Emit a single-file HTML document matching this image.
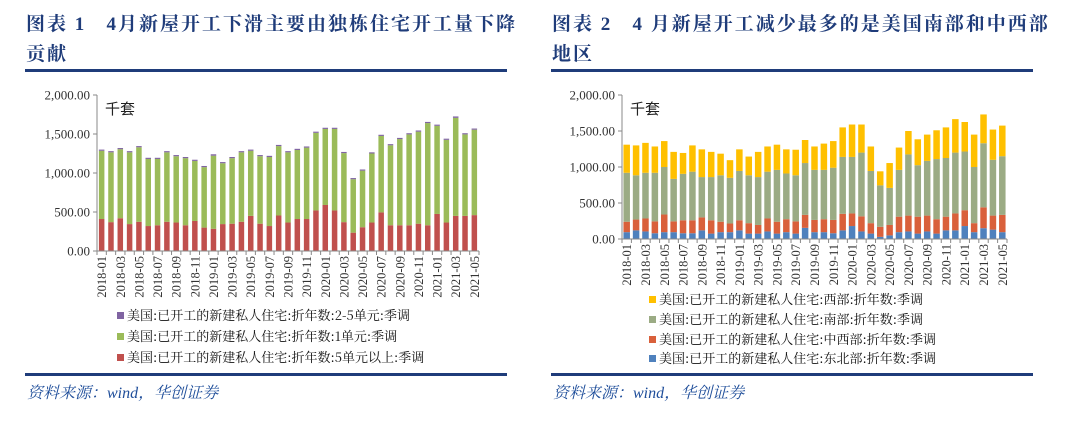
<!DOCTYPE html>
<html><head><meta charset="utf-8"><style>
body{margin:0;background:#fff;width:1080px;height:423px;overflow:hidden;position:relative;font-family:"Liberation Serif","Noto Serif CJK SC",serif}
.t{position:absolute;color:#1f3c7a;font-weight:bold;font-size:19px;line-height:30px;font-family:"Liberation Serif","Noto Serif CJK SC",serif;letter-spacing:2px}
.rule{position:absolute;height:3px;background:#1f3c7a}
.src{position:absolute;color:#1f4e9a;font-style:italic;font-size:16px;font-family:"Liberation Serif","Noto Serif CJK SC",serif}
svg{position:absolute;left:0;top:0}
</style></head><body>
<div class="t" style="left:26px;top:10px;width:500px">图表 1&nbsp;&nbsp;&nbsp;4月新屋开工下滑主要由独栋住宅开工量下降<br>贡献</div>
<div class="t" style="left:552px;top:10px;width:510px">图表 2&nbsp;&nbsp;&nbsp;4 月新屋开工减少最多的是美国南部和中西部<br>地区</div>
<div class="rule" style="left:25px;top:69px;width:482px"></div>
<div class="rule" style="left:551px;top:69px;width:482px"></div>
<div class="rule" style="left:25px;top:373px;width:482px"></div>
<div class="rule" style="left:551px;top:373px;width:482px"></div>
<div class="src" style="left:27px;top:380px">资料来源：wind，华创证券</div>
<div class="src" style="left:553px;top:380px">资料来源：wind，华创证券</div>
<svg id="s" width="1080" height="423"></svg>
<script>
const months=[];for(let y=2018;y<=2021;y++)for(let m=1;m<=12;m++){if(y==2021&&m>5)break;months.push(y+'-'+String(m).padStart(2,'0'));}
const yTicks=[0,500,1000,1500,2000];
const yTickLabels=['0.00','500.00','1,000.00','1,500.00','2,000.00'];
const c1Total=[1300,1280,1320,1280,1345,1195,1195,1280,1230,1205,1170,1090,1240,1140,1205,1280,1300,1230,1220,1360,1280,1310,1340,1530,1580,1580,1270,935,1045,1265,1490,1370,1450,1510,1545,1655,1620,1440,1725,1510,1570];
const c1Multi=[410,370,420,345,375,320,330,375,365,330,385,300,285,345,350,375,450,350,320,455,365,410,410,520,590,520,370,235,305,365,495,330,330,330,350,330,475,365,450,450,460];
const c1Small=[15,15,15,15,15,15,15,15,15,15,15,15,18,15,15,15,15,15,15,15,15,15,15,15,15,15,15,15,15,15,15,15,15,15,15,15,15,15,18,15,15];
const c2NE=[95,120,105,80,95,95,80,80,120,75,95,95,120,75,75,105,75,95,75,155,95,95,80,120,180,105,75,30,50,95,105,75,105,75,120,120,180,95,150,130,95];
const c2MWtop=[240,270,285,245,340,245,260,260,300,260,240,215,260,220,195,285,240,275,245,335,265,275,265,350,355,315,220,170,195,310,325,310,325,275,310,355,400,220,440,325,335];
const c2Stop=[920,885,920,920,1000,835,905,935,860,860,885,850,945,885,860,935,960,910,885,1055,960,960,990,1140,1140,1200,945,745,710,960,1175,1025,1085,1110,1125,1200,1215,1000,1330,1100,1150];
const c2Total=[1310,1300,1335,1285,1360,1210,1195,1300,1245,1210,1185,1095,1245,1145,1210,1285,1310,1245,1240,1375,1285,1325,1360,1550,1590,1590,1285,940,1055,1270,1500,1385,1450,1510,1550,1665,1625,1450,1730,1520,1575];
const S=document.getElementById('s'),NS='http://www.w3.org/2000/svg';
function mk(t,a,p){const e=document.createElementNS(NS,t);for(const k in a)e.setAttribute(k,a[k]);(p||S).appendChild(e);return e;}
function chart(id,x0,x1,y0,y1,bw,series,legend,ly){
 const n=months.length,slot=(x1-x0)/n;
 const X=i=>x0+slot*(i+0.5),Y=v=>y0-(v/2000)*(y0-y1);
 const g=mk('g',{});
 yTicks.forEach((t,k)=>{const tx=mk('text',{x:x0-7,y:Y(t)+4.5,'text-anchor':'end','font-size':13,fill:'#333','font-family':'Liberation Serif, serif'},g);tx.textContent=yTickLabels[k];
  const tk=mk('line',{x1:x0-4,x2:x0,y1:Y(t),y2:Y(t),stroke:'#888'},g);});
 const u=mk('text',{x:x0+8,y:y1+19,'font-size':15,fill:'#222','font-family':'Noto Sans CJK SC, sans-serif'},g);u.textContent='千套';
 for(let i=0;i<n;i++){let base=0;series.forEach(s=>{const v=s.vals[i];const r=mk('rect',{x:X(i)-bw/2,y:Y(base+v),width:bw,height:Y(base)-Y(base+v),fill:s.color},g);base+=v;});}
 const ax=mk('line',{x1:x0,x2:x0,y1:y1,y2:y0,stroke:'#888'},g);
 const bx=mk('line',{x1:x0,x2:x1,y1:y0,y2:y0,stroke:'#888'},g);
 for(let i=0;i<=n;i++){const tk=mk('line',{x1:x0+slot*i,x2:x0+slot*i,y1:y0,y2:y0+4,stroke:'#888'},g);}
 months.forEach((m,i)=>{if(i%2)return;const tx=mk('text',{x:0,y:0,'text-anchor':'end','font-size':12.5,fill:'#333','font-family':'Liberation Serif, serif',transform:`translate(${X(i)+4.5},${y0+5}) rotate(-90)`},g);tx.textContent=m;});
 legend.forEach((l,k)=>{const lg=mk('g',{},g);
  mk('rect',{x:l.x,y:ly[k]-6,width:7,height:7,fill:l.color},lg);
  const tx=mk('text',{x:l.x+10,y:ly[k]+2,'font-size':13,fill:'#111','font-family':'Noto Serif CJK SC, serif'},lg);tx.textContent=l.text;});
}
const c1Single=c1Total.map((t,i)=>t-c1Multi[i]-c1Small[i]);
chart('chart1',97,479,251,95,5.5,[{key:'5plus',vals:c1Multi,color:'#c0504d'},{key:'1unit',vals:c1Single,color:'#9bbb59'},{key:'2to4',vals:c1Small,color:'#8064a2'}],
 [{x:117,color:'#8064a2',text:'美国:已开工的新建私人住宅:折年数:2-5单元:季调'},{x:117,color:'#9bbb59',text:'美国:已开工的新建私人住宅:折年数:1单元:季调'},{x:117,color:'#c0504d',text:'美国:已开工的新建私人住宅:折年数:5单元以上:季调'}],[318,339,360]);
const c2MW=c2MWtop.map((v,i)=>v-c2NE[i]),c2S=c2Stop.map((v,i)=>v-c2MWtop[i]),c2W=c2Total.map((v,i)=>v-c2Stop[i]);
chart('chart2',622,1007,239,95,6.5,[{key:'northeast',vals:c2NE,color:'#4f81bd'},{key:'midwest',vals:c2MW,color:'#d9603b'},{key:'south',vals:c2S,color:'#9bab84'},{key:'west',vals:c2W,color:'#ffc000'}],
 [{x:649,color:'#ffc000',text:'美国:已开工的新建私人住宅:西部:折年数:季调'},{x:649,color:'#9bab84',text:'美国:已开工的新建私人住宅:南部:折年数:季调'},{x:649,color:'#d9603b',text:'美国:已开工的新建私人住宅:中西部:折年数:季调'},{x:649,color:'#4f81bd',text:'美国:已开工的新建私人住宅:东北部:折年数:季调'}],[302,322,342,361]);
</script>
</body></html>
